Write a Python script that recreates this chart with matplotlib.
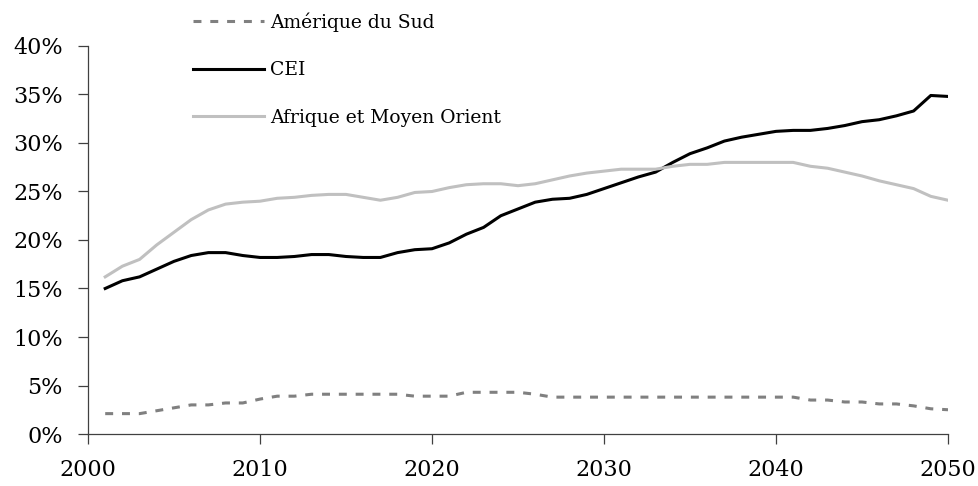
import matplotlib
matplotlib.use("Agg")
import matplotlib.pyplot as plt
from matplotlib.ticker import FuncFormatter, MultipleLocator

years = list(range(2001, 2051))

cei = [15.0, 15.8, 16.2, 17.0, 17.8, 18.4, 18.7, 18.7, 18.4, 18.2,
       18.2, 18.3, 18.5, 18.5, 18.3, 18.2, 18.2, 18.7, 19.0, 19.1,
       19.7, 20.6, 21.3, 22.5, 23.2, 23.9, 24.2, 24.3, 24.7, 25.3,
       25.9, 26.5, 27.0, 28.0, 28.9, 29.5, 30.2, 30.6, 30.9, 31.2,
       31.3, 31.3, 31.5, 31.8, 32.2, 32.4, 32.8, 33.3, 34.9, 34.8]

afrique = [16.2, 17.3, 18.0, 19.5, 20.8, 22.1, 23.1, 23.7, 23.9, 24.0,
           24.3, 24.4, 24.6, 24.7, 24.7, 24.4, 24.1, 24.4, 24.9, 25.0,
           25.4, 25.7, 25.8, 25.8, 25.6, 25.8, 26.2, 26.6, 26.9, 27.1,
           27.3, 27.3, 27.3, 27.6, 27.8, 27.8, 28.0, 28.0, 28.0, 28.0,
           28.0, 27.6, 27.4, 27.0, 26.6, 26.1, 25.7, 25.3, 24.5, 24.1]

amerique_sud = [2.1, 2.1, 2.1, 2.4, 2.7, 3.0, 3.0, 3.2, 3.2, 3.6,
                3.9, 3.9, 4.1, 4.1, 4.1, 4.1, 4.1, 4.1, 3.9, 3.9,
                3.9, 4.3, 4.3, 4.3, 4.3, 4.1, 3.8, 3.8, 3.8, 3.8,
                3.8, 3.8, 3.8, 3.8, 3.8, 3.8, 3.8, 3.8, 3.8, 3.8,
                3.8, 3.5, 3.5, 3.3, 3.3, 3.1, 3.1, 2.9, 2.6, 2.5]

labels = ["Amérique du Sud", "CEI", "Afrique et Moyen Orient"]
x_ticks = [2000, 2010, 2020, 2030, 2040, 2050]

plt.rcParams['font.family'] = ['DejaVu Serif']

fig = plt.figure(figsize=(9.79, 4.86), dpi=100)
ax = fig.add_axes([88/979, 52/486, (948-88)/979, (434-46)/486])

l1, = ax.plot(years, amerique_sud, color="#808080", lw=2.2, linestyle=(0, (2.6, 2.9)), label=labels[0])
l2, = ax.plot(years, cei, color="black", lw=2.2, label=labels[1])
l3, = ax.plot(years, afrique, color="#c0c0c0", lw=2.2, label=labels[2])

ax.set_xlim(2000, 2050)
ax.set_ylim(0, 40)
ax.set_xticks(x_ticks)
ax.yaxis.set_major_locator(MultipleLocator(5))
ax.yaxis.set_major_formatter(FuncFormatter(lambda v, p: f"{v:.0f}%"))
for s in ["top", "right"]:
    ax.spines[s].set_visible(False)
for s in ["left", "bottom"]:
    ax.spines[s].set_color("#404040")
    ax.spines[s].set_linewidth(0.9)
ax.tick_params(axis="both", direction="out", length=7, width=0.9, color="#404040",
               labelsize=16)
ax.tick_params(axis="y", pad=11)
ax.tick_params(axis="x", pad=11)
for lab in ax.get_xticklabels() + ax.get_yticklabels():
    lab.set_clip_on(False)

leg = fig.legend(handles=[l1, l2, l3], loc="upper left",
                 bbox_to_anchor=(193/979, 1 - 12/486), frameon=False,
                 fontsize=13.5, handlelength=3.8, handletextpad=0.3,
                 labelspacing=1.58, borderpad=0, borderaxespad=0)

fig.savefig("out.png", dpi=100)
